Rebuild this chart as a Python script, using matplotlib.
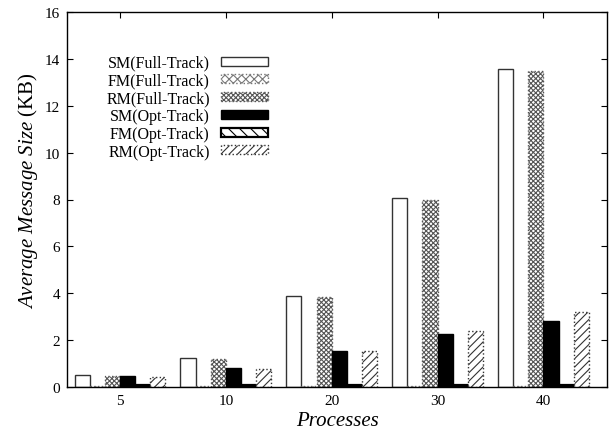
import matplotlib
matplotlib.use("Agg")
import matplotlib.pyplot as plt
import numpy as np

plt.rcParams['font.family'] = ['Liberation Serif', 'DejaVu Serif']
plt.rcParams['mathtext.fontset'] = 'custom'
plt.rcParams['mathtext.it'] = 'Liberation Serif:italic'
plt.rcParams['mathtext.rm'] = 'Liberation Serif'
plt.rcParams['hatch.linewidth'] = 0.8

categories = ['5', '10', '20', '30', '40']
series_names = ['SM(Full-Track)', 'FM(Full-Track)', 'RM(Full-Track)',
                'SM(Opt-Track)', 'FM(Opt-Track)', 'RM(Opt-Track)']
sm_full = [0.51, 1.25, 3.87, 8.05, 13.57]
fm_full = [0.05, 0.05, 0.05, 0.05, 0.05]
rm_full = [0.48, 1.21, 3.83, 7.98, 13.50]
sm_opt = [0.48, 0.83, 1.52, 2.25, 2.80]
fm_opt = [0.10, 0.10, 0.10, 0.10, 0.10]
rm_opt = [0.44, 0.78, 1.54, 2.38, 3.21]
values = [sm_full, fm_full, rm_full, sm_opt, fm_opt, rm_opt]

styles = [
    dict(facecolor='white', edgecolor='#333333', hatch=None, linestyle='-', linewidth=1.0),
    dict(facecolor='white', edgecolor='#777777', hatch='xxxx', linestyle=':', linewidth=1.0),
    dict(facecolor='white', edgecolor='#555555', hatch='xxxxxxx', linestyle=':', linewidth=1.0),
    dict(facecolor='black', edgecolor='black', hatch=None, linestyle='-', linewidth=1.0),
    dict(facecolor='white', edgecolor='black', hatch='\\\\\\', linestyle='-', linewidth=1.6),
    dict(facecolor='white', edgecolor='#333333', hatch='////', linestyle=':', linewidth=1.0),
]

fig = plt.figure(figsize=(6.09, 4.39), dpi=100)
ax = fig.add_axes([67/609, 51/439, 540/609, 375/439])

x = np.arange(len(categories))
w = 1/7
for j, (vals, st, name) in enumerate(zip(values, styles, series_names)):
    ax.bar(x + (j - 2.5) * w, vals, width=w, label=name, **st)

ax.set_xlim(-0.5, 4.6)
ax.set_ylim(0, 16)
ax.set_yticks(np.arange(0, 17, 2))
ax.set_xticks(x)
ax.set_xticklabels(categories)
ax.tick_params(direction='in', length=4, width=0.8, top=True, right=True,
               labelsize=11, pad=5)
for s in ax.spines.values():
    s.set_linewidth(1.0)

ax.set_ylabel(r'$\mathit{Average\ Message\ Size}$ (KB)', fontsize=15)
ax.yaxis.set_label_coords(-0.05, 0.525)
ax.set_xlabel('Processes', fontsize=15, style='italic', labelpad=3)

leg = ax.legend(loc='upper right', bbox_to_anchor=(0.372, 0.886), frameon=False,
                markerfirst=False, fontsize=11.5, handlelength=2.94, handleheight=0.5,
                labelspacing=0.11, handletextpad=0.7, borderpad=0, borderaxespad=0)

fig.savefig('out.png', dpi=100)
